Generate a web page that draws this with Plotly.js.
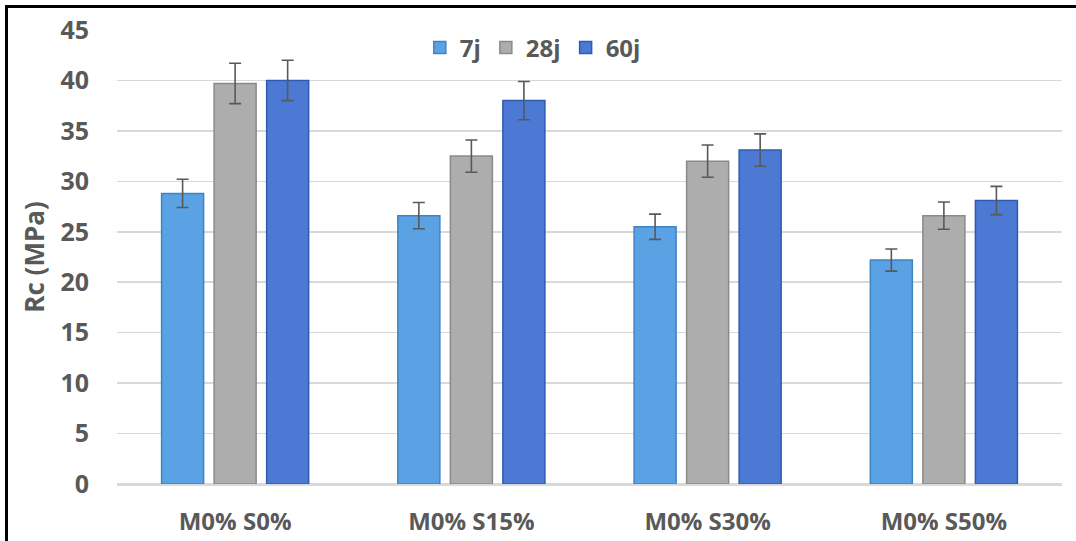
<!DOCTYPE html>
<html>
<head>
<meta charset="utf-8">
<script src="https://cdn.plot.ly/plotly-3.0.1.min.js"></script>
<style>
  html, body { margin: 0; padding: 0; background: #fff; }
  #wrap { position: relative; width: 1076px; height: 541px; overflow: hidden; }
  #chart { width: 1076px; height: 541px; }
  #frame { position: absolute; left: 5px; top: 5px; width: 1080px; height: 560px;
           border: 3px solid #000; box-sizing: border-box; pointer-events: none; }
</style>
</head>
<body>
<div id="wrap">
  <div id="chart"></div>
  <div id="frame"></div>
</div>
<script>
const categories = ['M0% S0%', 'M0% S15%', 'M0% S30%', 'M0% S50%'];
const seriesNames = ['7j', '28j', '60j'];
const values7j  = [28.8, 26.6, 25.5, 22.2];
const values28j = [39.7, 32.5, 32.0, 26.6];
const values60j = [40.0, 38.0, 33.1, 28.1];
const err7j  = [1.4, 1.3, 1.25, 1.1];
const err28j = [2.0, 1.6, 1.6, 1.35];
const err60j = [2.0, 1.9, 1.6, 1.4];
const yTicks = [0, 5, 10, 15, 20, 25, 30, 35, 40, 45];

const fills = ['#5AA2E3', '#ADADAD', '#4B79D4'];
const edges = ['#3F83C6', '#8A8A8A', '#2F5CAE'];
const vals = [values7j, values28j, values60j];
const errs = [err7j, err28j, err60j];

const FONT = '"Open Sans", "Noto Sans", "Liberation Sans", sans-serif';
const TXT = '#595959';
const b = s => '<b>' + s + '</b>';

const traces = seriesNames.map((n, i) => ({
  type: 'bar',
  name: b(n),
  x: categories,
  y: vals[i],
  marker: { color: fills[i], line: { color: edges[i], width: 1.5 } },
  error_y: { type: 'data', array: errs[i], visible: true, color: '#595959', thickness: 1.6, width: 6 }
}));

const layout = {
  width: 1076, height: 541,
  margin: { l: 117, r: 14, t: 30, b: 57 },
  paper_bgcolor: '#fff', plot_bgcolor: '#fff',
  barmode: 'group', bargap: 0.333, bargroupgap: 0.2,
  font: { family: FONT, color: TXT, size: 22 },
  showlegend: true,
  legend: {
    orientation: 'h', x: 0.44, xanchor: 'center', y: 1.01, yanchor: 'top',
    font: { family: FONT, size: 24, color: TXT },
    bgcolor: 'rgba(0,0,0,0)', itemwidth: 30, traceorder: 'normal'
  },
  xaxis: {
    type: 'category', showgrid: false, zeroline: false,
    showline: true, linecolor: '#D9D9D9', linewidth: 1.5,
    ticks: '', ticklabelstandoff: 16,
    tickvals: categories, ticktext: categories.map(b),
    tickfont: { family: FONT, size: 24, color: TXT }
  },
  yaxis: {
    range: [0, 45], tickvals: yTicks, ticktext: yTicks.map(v => b(String(v))),
    showgrid: true, gridcolor: '#D9D9D9', gridwidth: 1.5,
    zeroline: true, zerolinecolor: '#D9D9D9', zerolinewidth: 1.5,
    showline: false, ticks: '', ticklabelstandoff: 27,
    tickfont: { family: FONT, size: 25, color: TXT },
    title: { text: b('Rc (MPa)'), standoff: 8, font: { family: FONT, size: 26, color: TXT } }
  }
};

Plotly.newPlot('chart', traces, layout, { displayModeBar: false, staticPlot: true });
</script>
</body>
</html>
